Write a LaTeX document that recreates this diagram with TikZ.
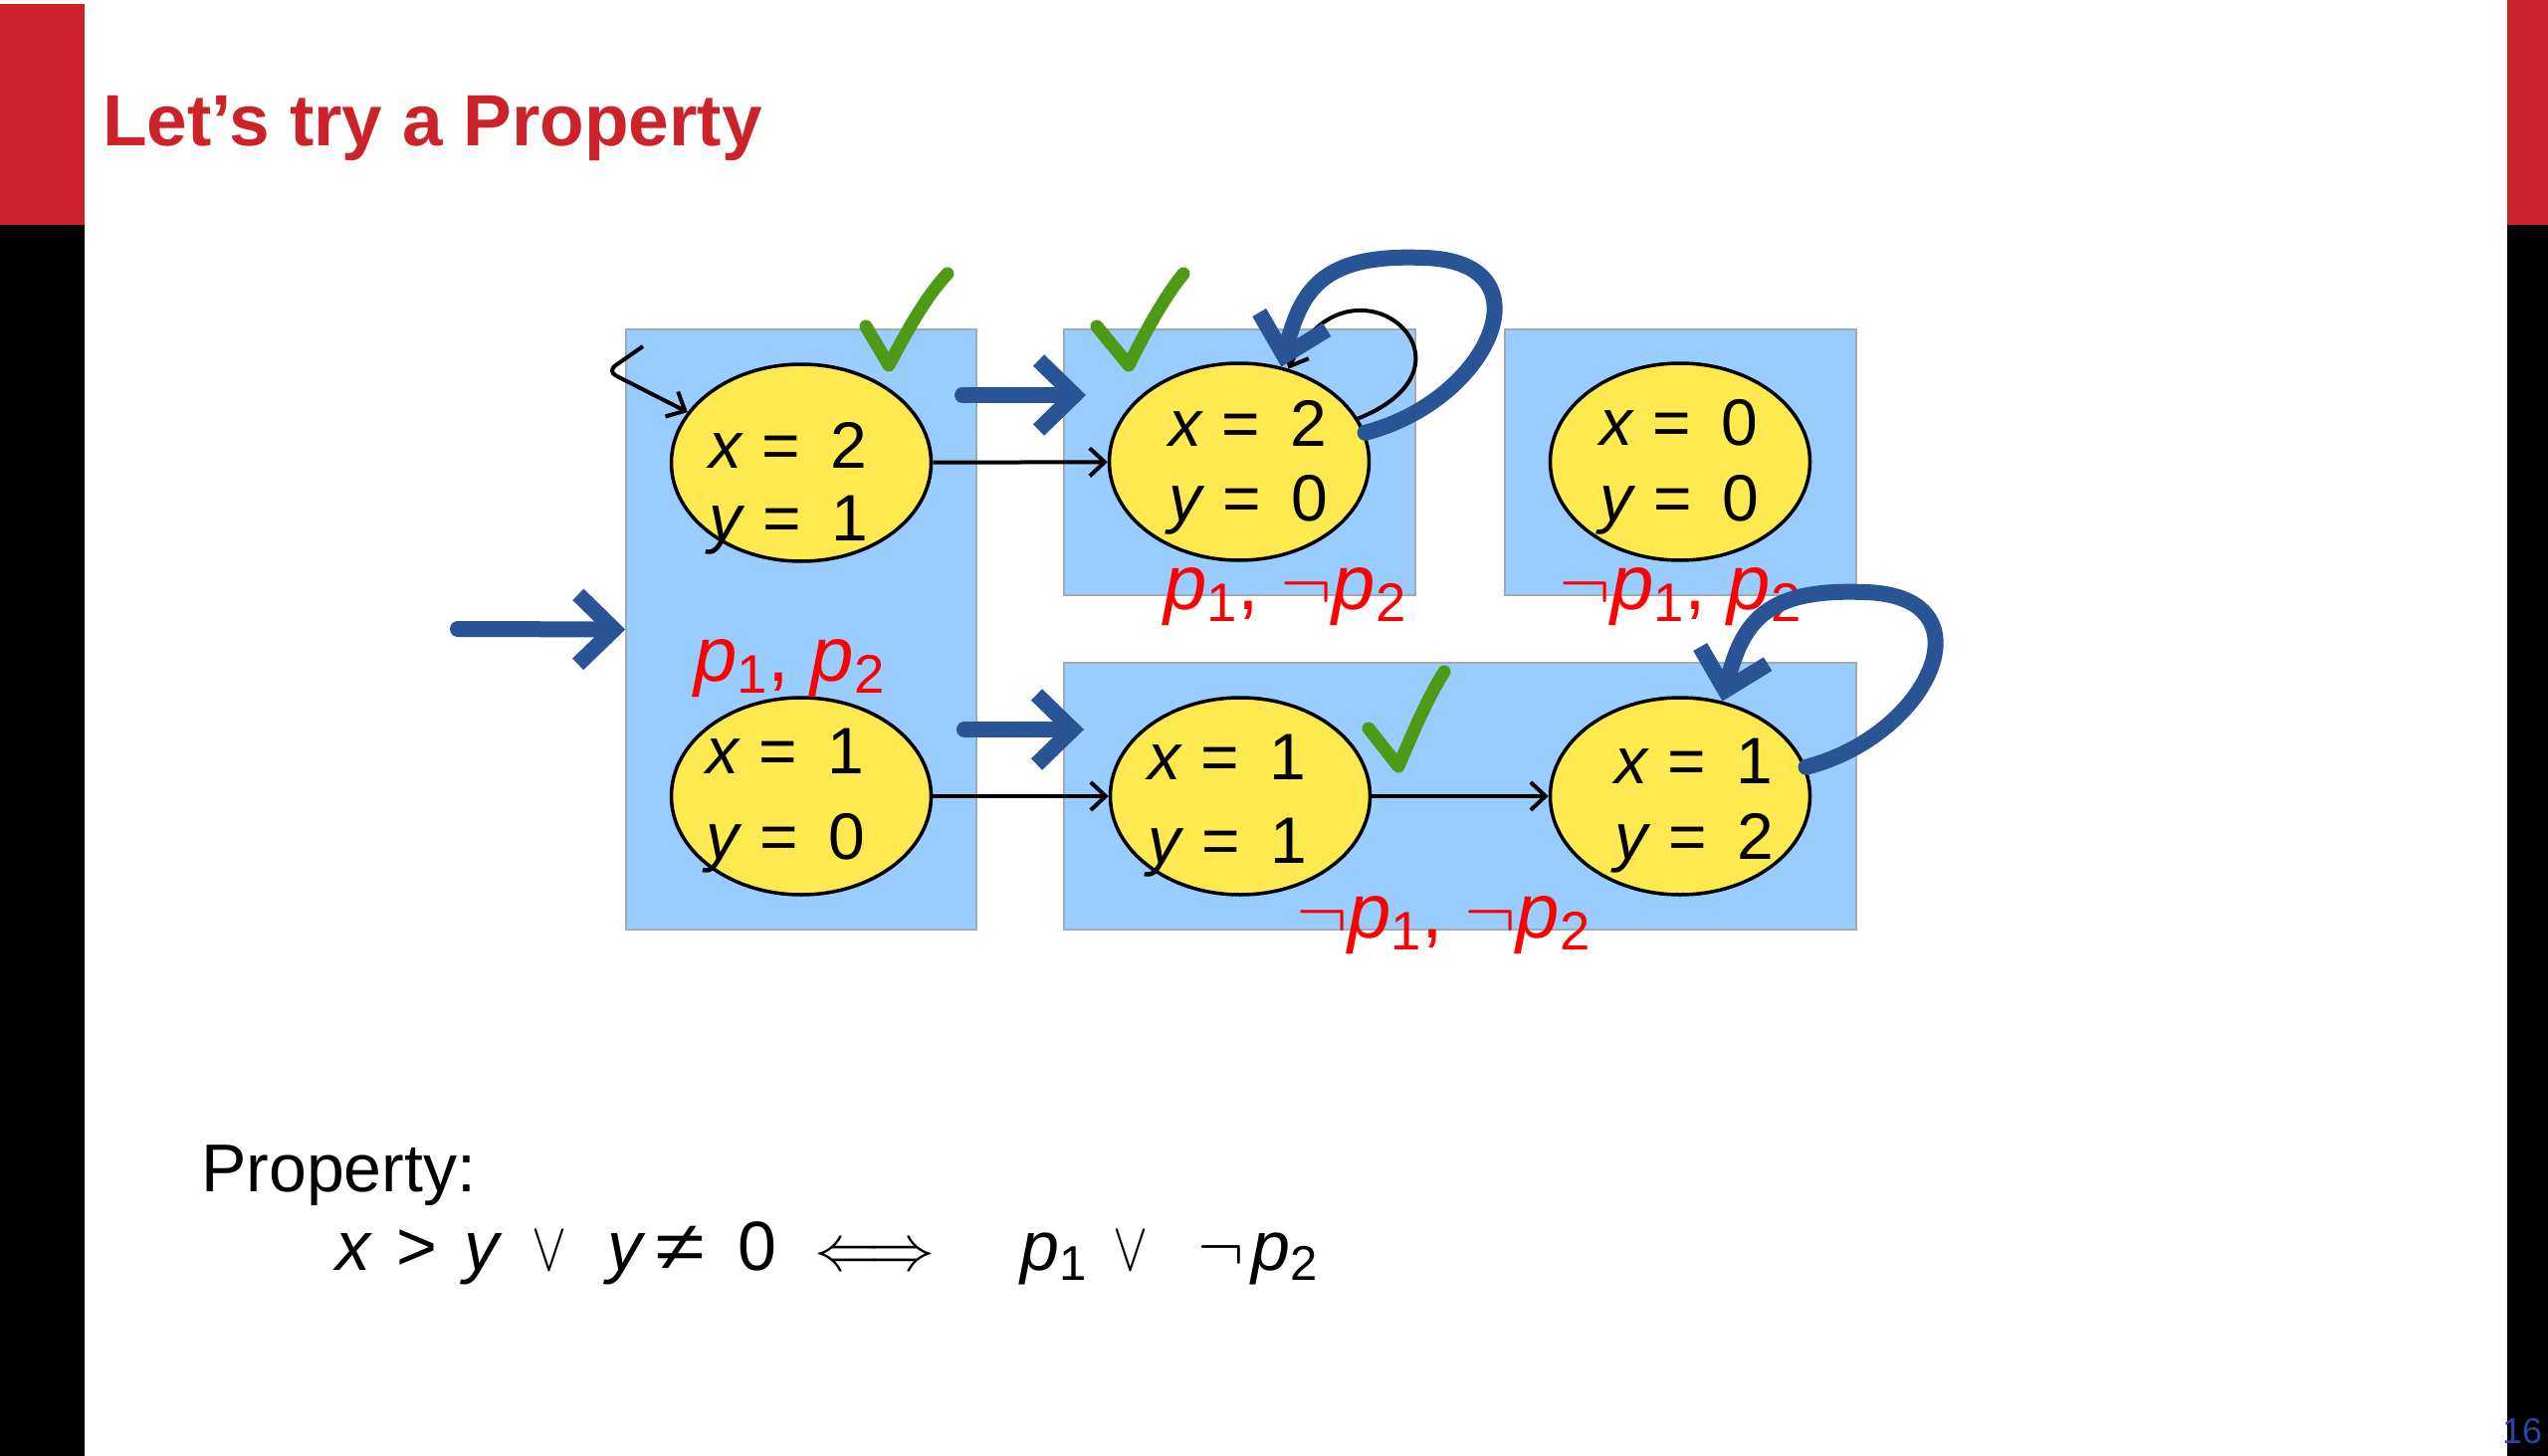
\RequirePackage{fix-cm}
\documentclass[tikz,border=0pt]{standalone}
\usepackage{fontspec}
\setmainfont{Liberation Sans}
\usepackage{graphicx}
\usetikzlibrary{shapes.geometric,arrows.meta,calc}

\definecolor{slred}{RGB}{204,34,41}
\definecolor{boxblue}{RGB}{153,204,255}
\definecolor{boxedge}{RGB}{160,170,180}
\definecolor{ellyellow}{RGB}{255,233,80}
\definecolor{inkblue}{RGB}{41,84,150}
\definecolor{ckgreen}{RGB}{78,154,22}
\definecolor{pgnum}{RGB}{40,70,160}

\newcommand\sbx[1]{\raisebox{-0.15em}{\scalebox{0.7}{#1}}}

\begin{document}
\begin{tikzpicture}[x=1pt,y=-1pt,
  box/.style={draw=boxedge,line width=1.5pt,fill=boxblue,rectangle,inner sep=0pt},
  stnode/.style={ellipse,draw=black,line width=3.5pt,fill=ellyellow,minimum width=261pt,minimum height=198pt,inner sep=0pt},
  etxt/.style={anchor=base west,inner sep=0pt,font=\fontsize{66}{70}\selectfont},
  lbl/.style={inner sep=0pt,text=red,font=\fontsize{78}{80}\selectfont},
  blk/.style={draw=black,line width=4pt,-{Straight Barb[length=15pt,width=28pt]}},
  bluearr/.style={draw=inkblue,line width=16pt,line cap=round,-{Straight Barb[length=36pt,width=70pt]}},
  chk/.style={draw=ckgreen,line width=13pt,line cap=round,line join=round},
  fml/.style={anchor=base west,inner sep=0pt,font=\fontsize{70}{74}\selectfont},
]
\fill[white] (0,0) rectangle (2560,1463);
\useasboundingbox (0,0) rectangle (2560,1463);

% side bars
\fill[slred] (0,4) rectangle (85,226);
\fill[black] (0,226) rectangle (85,1463);
\fill[slred] (2519,0) rectangle (2560,226);
\fill[black] (2519,226) rectangle (2560,1463);

% title
\node[anchor=base west,inner sep=0pt,text=slred,font=\fontsize{73}{80}\selectfont\bfseries] (title) at (103,147) {Let’s try a Property};

% boxes
\node[box,minimum width=352pt,minimum height=603pt] (bA) at (805,632.5) {};
\node[box,minimum width=353pt,minimum height=267pt] (bB) at (1245.5,464.5) {};
\node[box,minimum width=353pt,minimum height=267pt] (bC) at (1688.5,464.5) {};
\node[box,minimum width=796pt,minimum height=268pt] (bD) at (1467,800) {};

% states
\node[stnode] (e1) at (805,465) {};
\node[stnode] (e2) at (1245,464) {};
\node[stnode] (e3) at (1688,464) {};
\node[stnode] (e4) at (805,800) {};
\node[stnode] (e5) at (1246,800) {};
\node[stnode] (e6) at (1688,800) {};

% state texts
\node[etxt] (t1a) at (712,470) {\textit{x} = \hspace{12pt}2};
\node[etxt] (t1b) at (712,543) {\textit{y} = \hspace{12pt}1};
\node[etxt] (t2a) at (1174,448) {\textit{x} = \hspace{12pt}2};
\node[etxt] (t2b) at (1174,523) {\textit{y} = \hspace{12pt}0};
\node[etxt] (t3a) at (1607,447) {\textit{x} = \hspace{12pt}0};
\node[etxt] (t3b) at (1607,523) {\textit{y} = \hspace{12pt}0};
\node[etxt] (t4a) at (709,777) {\textit{x} = \hspace{12pt}1};
\node[etxt] (t4b) at (709,863) {\textit{y} = \hspace{12pt}0};
\node[etxt] (t5a) at (1153,783) {\textit{x} = \hspace{12pt}1};
\node[etxt] (t5b) at (1153,867) {\textit{y} = \hspace{12pt}1};
\node[etxt] (t6a) at (1622,787) {\textit{x} = \hspace{12pt}1};
\node[etxt] (t6b) at (1622,863) {\textit{y} = \hspace{12pt}2};

% black transitions
\draw[blk] (e1) -- (e2);
\draw[blk] (e4) -- (e5);
\draw[blk] (e5) -- (e6);
\coordinate (ini) at (646,348);
\draw[blk,rounded corners=10pt] (ini) -- (610,373) -- (e1.156);
\draw[blk] (e2.20) .. controls +(140,-56) and +(60,-130) .. (e2.62);

% red labels
\node[lbl] (lA) at (793,672) {\textit{p}\sbx{1}, \textit{p}\sbx{2}};
\node[lbl] (lB) at (1291,600) {\textit{p}\sbx{1}, $\neg$\textit{p}\sbx{2}};
\node[lbl] (lC) at (1688,600) {$\neg$\textit{p}\sbx{1}, \textit{p}\sbx{2}};
\node[lbl] (lD) at (1450,930) {$\neg$\textit{p}\sbx{1}, $\neg$\textit{p}\sbx{2}};

% blue arrows
\coordinate (bi0) at (460,632);
\draw[bluearr] (bi0) -- (bA.west);
\coordinate (bt0) at (967,397);
\coordinate (bt1) at (1091,397);
\draw[bluearr] (bt0) -- (bt1);
\coordinate (bb0) at (969,733);
\coordinate (bb1) at (1089,733);
\draw[bluearr] (bb0) -- (bb1);
\draw[bluearr] (e2.13) .. controls +(125,-32) and +(130,3) .. ($(e2)+(185,-205)$) .. controls +(-100,-4) and +(20,-79) .. (e2.66);
\draw[bluearr] (e6.13) .. controls +(125,-32) and +(130,3) .. ($(e6)+(185,-205)$) .. controls +(-100,-4) and +(20,-79) .. (e6.66);

% check marks
\draw[chk] (870,328) -- (893,367) .. controls (910,335) and (930,298) .. (952,275);
\draw[chk] (1102,328) -- (1134,367) .. controls (1150,335) and (1170,298) .. (1189,275);
\draw[chk] (1375,732) -- (1405,770) .. controls (1420,735) and (1435,700) .. (1451,675);

% property
\node[anchor=base west,inner sep=0pt,font=\fontsize{68}{72}\selectfont] (prop) at (202,1197) {Property:};
\node[fml] (f1) at (337,1276) {\textit{x}};
\node[fml] (f2) at (398,1276) {>};
\node[fml] (f3) at (466,1276) {\textit{y}};
\node[fml,xscale=0.75] (f4) at (534,1276) {$\vee$};
\node[fml] (f5) at (610,1276) {\textit{y}};
\node[fml,xscale=1.3] (f6) at (658,1276) {≠};
\node[fml] (f7) at (741,1276) {0};
\node[fml,font=\fontsize{66}{70}\selectfont] (f8) at (818,1276) {$\Longleftrightarrow$};
\node[fml] (f9) at (1025,1276) {\textit{p}\sbx{1}};
\node[fml,xscale=0.75] (f10) at (1118,1276) {$\vee$};
\node[fml] (f11) at (1203,1276) {$\neg$};
\node[fml] (f12) at (1257,1276) {\textit{p}\sbx{2}};

% page number
\node[anchor=base west,inner sep=0pt,text=pgnum,font=\fontsize{36}{40}\selectfont] (pg) at (2514,1450) {16};
\end{tikzpicture}
\end{document}
